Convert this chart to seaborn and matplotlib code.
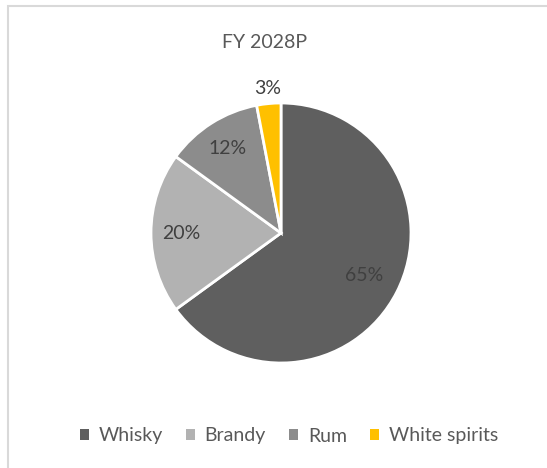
import matplotlib
matplotlib.use("Agg")
import matplotlib.pyplot as plt
import seaborn as sns
import numpy as np
from matplotlib.patches import Rectangle

# Share of spirits, FY 2028P
categories = ['Whisky', 'Brandy', 'Rum', 'White spirits']
shares = [65, 20, 12, 3]
colors = ['#5f5f5f', '#b2b2b2', '#8c8c8c', '#ffc000']

sns.set_theme(style='white')
plt.rcParams['font.family'] = ['Lato', 'DejaVu Sans']
text_color = '#595959'
label_color = '#404040'

fig = plt.figure(figsize=(5.47, 4.68), dpi=100)

# light chart border
fig.patches.append(Rectangle((8 / 547, -0.05), 1.1, 1 - 6 / 468 + 0.05,
                             transform=fig.transFigure, fill=False,
                             edgecolor='#d9d9d9', linewidth=1.5))

cx, cy, r = 281, 233, 130
ax = fig.add_axes([(cx - r) / 547, (468 - cy - r) / 468, 2 * r / 547, 2 * r / 468])

wedges, _ = ax.pie(shares, colors=colors, startangle=90, counterclock=False,
                   wedgeprops=dict(edgecolor='white', linewidth=2))
ax.set_xlim(-1, 1)
ax.set_ylim(-1, 1)
ax.set_aspect('equal')

# percentage labels
dists = [0.72, 0.77, 0.77, 1.12]
for w, s, d in zip(wedges, shares, dists):
    ang = np.deg2rad((w.theta1 + w.theta2) / 2)
    ax.text(d * np.cos(ang), d * np.sin(ang), f'{s}%', ha='center', va='center',
            fontsize=14, color=label_color)

fig.text(265 / 547, 1 - 43 / 468, 'FY 2028P', ha='center', va='center',
         fontsize=14, color=text_color)

leg = fig.legend(wedges, categories, loc='center', bbox_to_anchor=(289 / 547, 1 - 436 / 468),
                 ncol=4, frameon=False, fontsize=14, handlelength=0.45, handleheight=0.45,
                 handletextpad=0.5, columnspacing=1.2, labelcolor=text_color)
for h in leg.legend_handles:
    h.set_edgecolor('none')

fig.savefig('out.png', dpi=100)
